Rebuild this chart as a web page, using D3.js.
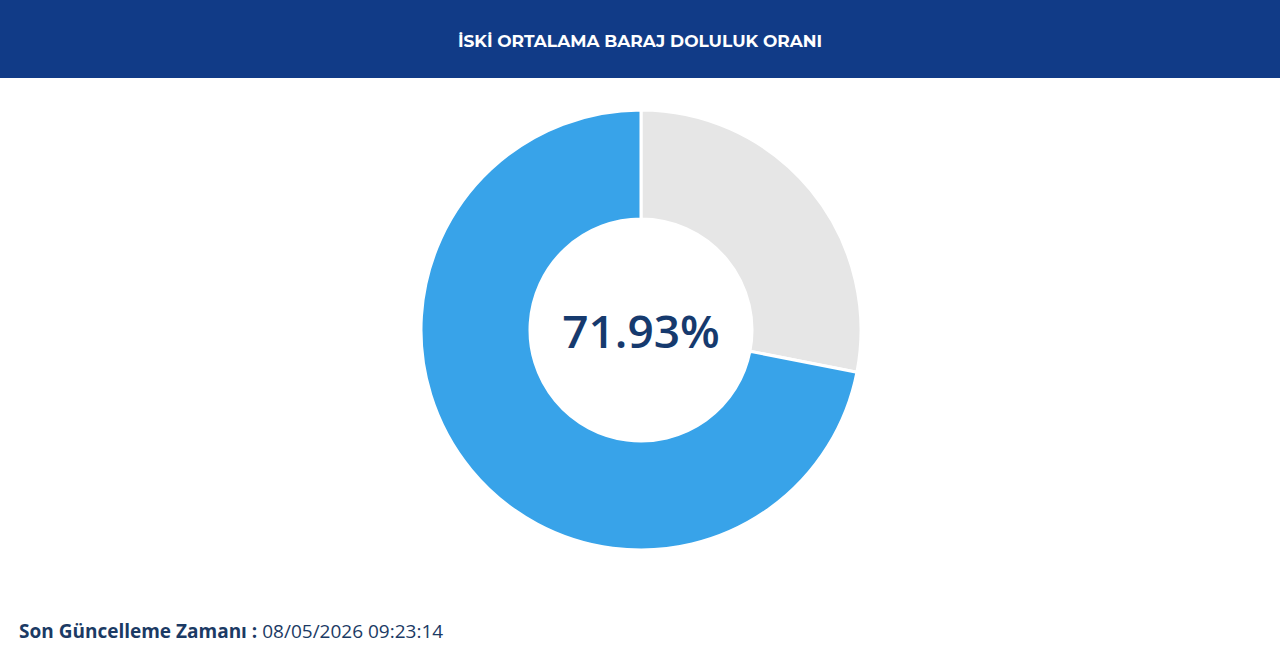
<!DOCTYPE html>
<html><head><meta charset="utf-8">
<script src="https://cdn.jsdelivr.net/npm/d3@7"></script>
<style>body{margin:0;background:#fff;}svg{display:block;}</style>
</head><body><svg id="c" width="1280" height="669"></svg>
<script>
const categories = ["Boş", "Dolu"];
const values = [28.07, 71.93];
const colors = ["#e6e6e6", "#38a3e9"];
const title = "İSKİ ORTALAMA BARAJ DOLULUK ORANI";
const centerLabel = "71.93%";
const footerLabel = "Son Güncelleme Zamanı :";
const footerValue = " 08/05/2026 09:23:14";

const svg = d3.select("#c");
svg.append("rect").attr("width",1280).attr("height",78).attr("fill","#113b87");
svg.append("text").attr("x",640).attr("y",42).attr("text-anchor","middle")
  .attr("dominant-baseline","middle").attr("fill","#fff")
  .attr("font-family","Montserrat, 'Open Sans', sans-serif").attr("font-weight",700)
  .attr("font-size",17).text(title);

const pie = d3.pie().sort(null).value(d=>d)(values);
const arc = d3.arc().innerRadius(111).outerRadius(220);
const g = svg.append("g").attr("transform","translate(641,330)");
g.selectAll("path").data(pie).join("path").attr("d",arc)
  .attr("fill",(d,i)=>colors[i]).attr("stroke","#fff").attr("stroke-width",3);
g.append("text").attr("text-anchor","middle").attr("dominant-baseline","central")
  .attr("fill","#163a6e").attr("font-family","'Open Sans', sans-serif").attr("font-weight",600)
  .attr("font-size",46).text(centerLabel);

const t = svg.append("text").attr("x",19).attr("y",638).attr("fill","#1b3a64")
  .attr("font-family","'Open Sans', sans-serif").attr("font-size",19);
t.append("tspan").attr("font-weight",700).text(footerLabel);
t.append("tspan").attr("font-weight",400).text(footerValue);
</script></body></html>
